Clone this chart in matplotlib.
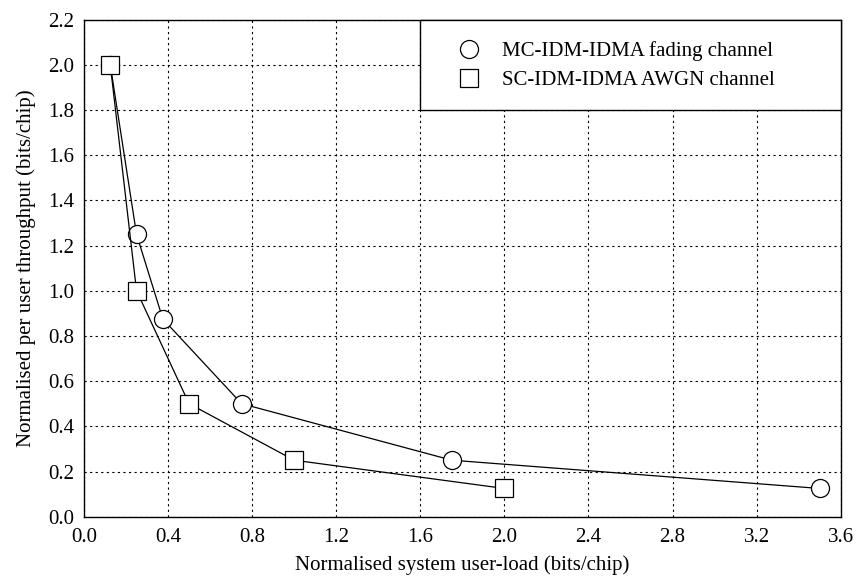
import matplotlib
matplotlib.use("Agg")
import matplotlib.pyplot as plt
from matplotlib.ticker import MultipleLocator, FormatStrFormatter
from matplotlib.lines import Line2D
from matplotlib.patches import Rectangle

plt.rcParams['font.family'] = ['Liberation Serif', 'DejaVu Serif']

mc_x = [0.125, 0.25, 0.375, 0.75, 1.75, 3.5]
mc_y = [2.0, 1.25, 0.875, 0.5, 0.25, 0.125]
sc_x = [0.125, 0.25, 0.5, 1.0, 2.0]
sc_y = [2.0, 1.0, 0.5, 0.25, 0.125]
labels = ['MC-IDM-IDMA fading channel', 'SC-IDM-IDMA AWGN channel']

fig = plt.figure(figsize=(8.56, 5.77), dpi=100)
ax = fig.add_axes([0.0981, 0.1045, 0.8840, 0.8617])

ax.plot(mc_x, mc_y, color='black', lw=0.9, marker='o', ms=13,
        mfc='white', mec='black', mew=0.9, zorder=3)
ax.plot(sc_x, sc_y, color='black', lw=0.9, marker='s', ms=13.5,
        mfc='white', mec='black', mew=0.9, zorder=4)

ax.set_xlim(0, 3.6)
ax.set_ylim(0, 2.2)
ax.xaxis.set_major_locator(MultipleLocator(0.4))
ax.yaxis.set_major_locator(MultipleLocator(0.2))
ax.xaxis.set_major_formatter(FormatStrFormatter('%.1f'))
ax.yaxis.set_major_formatter(FormatStrFormatter('%.1f'))
ax.tick_params(axis='x', length=0, labelsize=15, pad=8)
ax.tick_params(axis='y', length=0, labelsize=15, pad=7)
ax.grid(True, color='black', linestyle=(0, (2, 3)), lw=0.8)
for s in ax.spines.values():
    s.set_linewidth(1.0)

ax.set_xlabel('Normalised system user-load (bits/chip)', fontsize=15, labelpad=6)
ax.set_ylabel('Normalised per user throughput (bits/chip)', fontsize=15, labelpad=9)

# legend box (white, framed) in the upper-right region
box = Rectangle((1.6, 1.8), 2.0, 0.4, facecolor='white', edgecolor='black',
                lw=1.0, zorder=5, clip_on=False)
ax.add_patch(box)
handles = [Line2D([], [], ls='none', marker='o', ms=13, mfc='white', mec='black', mew=0.9),
           Line2D([], [], ls='none', marker='s', ms=13, mfc='white', mec='black', mew=0.9)]
leg = ax.legend(handles, labels, loc='center left',
                bbox_to_anchor=(1.6 / 3.6 + 0.018, 2.0 / 2.2 - 0.002), fontsize=15,
                frameon=False, borderaxespad=0, handlelength=1.0, handletextpad=1.05,
                borderpad=1.2, labelspacing=0.45)
leg.set_zorder(6)

fig.savefig('out.png', dpi=100)
